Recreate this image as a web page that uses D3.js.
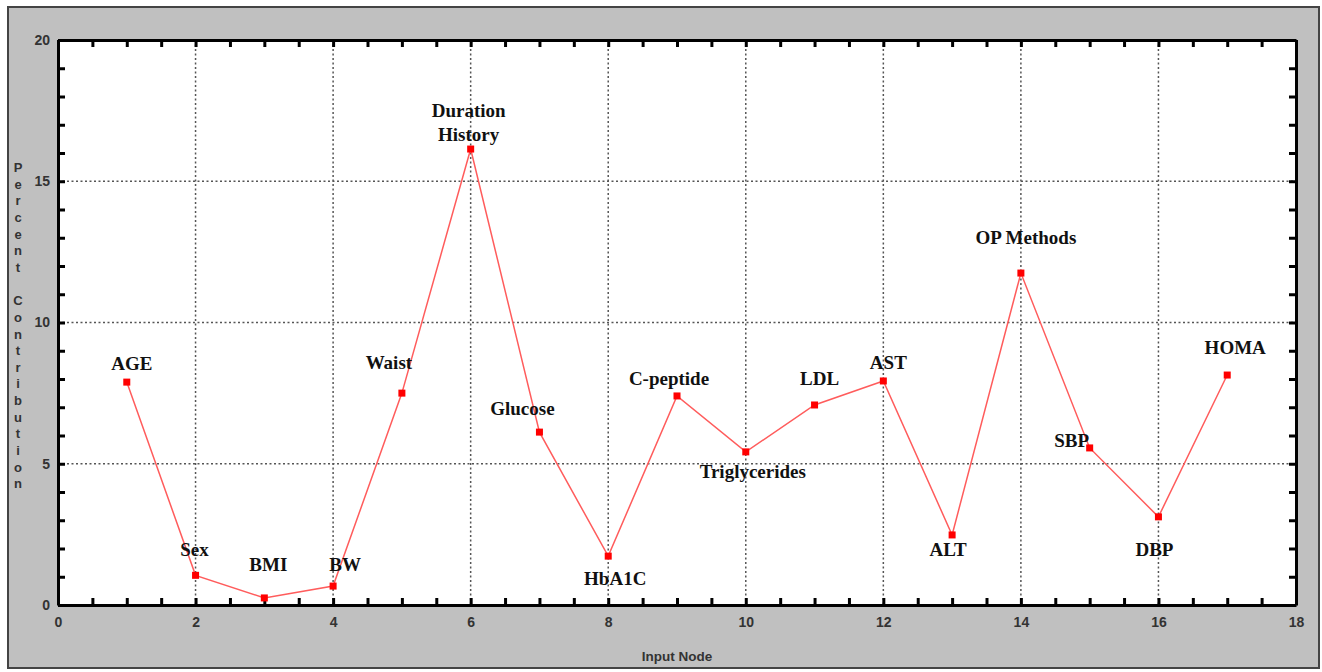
<!DOCTYPE html>
<html>
<head>
<meta charset="utf-8">
<script src="https://cdn.jsdelivr.net/npm/d3@7"></script>
<style>
  body { margin: 0; background: #fff; }
  .tick text { font-family: "Liberation Sans", Arial, sans-serif; font-weight: bold; font-size: 14px; fill: #333; }
  .lbl { font-family: "Liberation Serif", "Times New Roman", serif; font-weight: bold; font-size: 19px; fill: #111; }
</style>
</head>
<body>
<svg id="chart" width="1322" height="672"></svg>
<script>
// input nodes and their percent contribution
const nodes = [1, 2, 3, 4, 5, 6, 7, 8, 9, 10, 11, 12, 13, 14, 15, 16, 17];
const contribution = [7.89, 1.05, 0.25, 0.67, 7.5, 16.14, 6.12, 1.73, 7.4, 5.42, 7.08, 7.93, 2.48, 11.75, 5.56, 3.12, 8.14];
const names = ['AGE', 'Sex', 'BMI', 'BW', 'Waist', 'Duration|History', 'Glucose', 'HbA1C', 'C-peptide',
  'Triglycerides', 'LDL', 'AST', 'ALT', 'OP Methods', 'SBP', 'DBP', 'HOMA'];
const xTickLabels = [0, 2, 4, 6, 8, 10, 12, 14, 16, 18];
const yTickLabels = [0, 5, 10, 15, 20];

// label placement, pixels from each marker [dx, dy of baseline]
const labelOffsets = [[5, -12], [-1, -19], [4, -27], [12, -15], [-13, -24], [-2, -32], [-17, -17], [7, 29],
  [-8, -11], [7, 26], [5, -20], [5, -12], [-4, 21], [5, -29], [-18, -1], [-4, 39], [8, -21]];

const svg = d3.select('#chart');
const margin = { top: 40, right: 26, bottom: 67, left: 58 };
const W = 1322, H = 672;

// gray panel
svg.append('rect')
  .attr('x', 8).attr('y', 7)
  .attr('width', 1311).attr('height', 661)
  .attr('fill', '#c0c0c0')
  .attr('stroke', '#444').attr('stroke-width', 2);

const x = d3.scaleLinear().domain([0, 18]).range([margin.left, W - margin.right]);
const y = d3.scaleLinear().domain([0, 20]).range([H - margin.bottom, margin.top]);

// plot area
svg.append('rect')
  .attr('x', x(0)).attr('y', y(20))
  .attr('width', x(18) - x(0)).attr('height', y(0) - y(20))
  .attr('fill', '#fff');

// dotted grid
const gridX = xTickLabels.filter(d => d > 0 && d < 18);
const gridY = yTickLabels.filter(d => d > 0 && d < 20);
svg.append('g').selectAll('line').data(gridX).enter().append('line')
  .attr('x1', d => x(d)).attr('x2', d => x(d))
  .attr('y1', y(20)).attr('y2', y(0))
  .attr('stroke', '#555').attr('stroke-width', 1.5).attr('stroke-dasharray', '2,2.5');
svg.append('g').selectAll('line').data(gridY).enter().append('line')
  .attr('x1', x(0)).attr('x2', x(18))
  .attr('y1', d => y(d)).attr('y2', d => y(d))
  .attr('stroke', '#555').attr('stroke-width', 1.5).attr('stroke-dasharray', '2,2.5');

const xTicks = d3.range(0, 18.01, 0.5);
const yTicks = d3.range(0, 20.01, 1);
const xFmt = d => (xTickLabels.includes(d) ? d : '');
const yFmt = d => (yTickLabels.includes(d) ? d : '');

function styleAxis(g) {
  g.select('.domain').attr('stroke', '#000').attr('stroke-width', 3);
  g.selectAll('.tick line').attr('stroke', '#000').attr('stroke-width', 3);
}

svg.append('g')
  .attr('transform', 'translate(0,' + y(0) + ')')
  .call(d3.axisBottom(x).tickValues(xTicks).tickFormat(xFmt).tickSize(-7).tickSizeOuter(0).tickPadding(12))
  .call(styleAxis);
svg.append('g')
  .attr('transform', 'translate(0,' + y(20) + ')')
  .call(d3.axisTop(x).tickValues(xTicks).tickFormat('').tickSize(-7).tickSizeOuter(0))
  .call(styleAxis);
svg.append('g')
  .attr('transform', 'translate(' + x(0) + ',0)')
  .call(d3.axisLeft(y).tickValues(yTicks).tickFormat(yFmt).tickSize(-7).tickSizeOuter(0).tickPadding(8))
  .call(styleAxis);
svg.append('g')
  .attr('transform', 'translate(' + x(18) + ',0)')
  .call(d3.axisRight(y).tickValues(yTicks).tickFormat('').tickSize(-7).tickSizeOuter(0))
  .call(styleAxis);

// axis titles
svg.append('text')
  .attr('x', 677).attr('y', 661)
  .attr('text-anchor', 'middle')
  .style('font-family', '"Liberation Sans", Arial, sans-serif')
  .style('font-weight', 'bold').style('font-size', '13.5px').style('fill', '#333')
  .text('Input Node');

const yTitle = 'Percent Contribution'.split('');
svg.append('g').selectAll('text').data(yTitle).enter().append('text')
  .attr('x', 18).attr('y', (d, i) => 172 + i * 16.65)
  .attr('text-anchor', 'middle')
  .style('font-family', '"Liberation Sans", Arial, sans-serif')
  .style('font-weight', 'bold').style('font-size', '13px').style('fill', '#333')
  .text(d => d);

// the series
const data = nodes.map((n, i) => ({ n: n, v: contribution[i], name: names[i], off: labelOffsets[i] }));

svg.append('path')
  .datum(data)
  .attr('fill', 'none')
  .attr('stroke', '#ff5c5c')
  .attr('stroke-width', 1.5)
  .attr('d', d3.line().x(d => x(d.n)).y(d => y(d.v)));

svg.append('g').selectAll('rect').data(data).enter().append('rect')
  .attr('x', d => x(d.n) - 3.5).attr('y', d => y(d.v) - 3.5)
  .attr('width', 7).attr('height', 7)
  .attr('fill', '#ff0000');

const labels = svg.append('g').selectAll('text').data(data).enter().append('text')
  .attr('class', 'lbl')
  .attr('text-anchor', 'middle')
  .attr('x', d => x(d.n) + d.off[0])
  .attr('y', d => y(d.v) + d.off[1]);
labels.selectAll('tspan').data(d => d.name.split('|').map(s => ({ s: s, d: d }))).enter().append('tspan')
  .attr('x', t => x(t.d.n) + t.d.off[0])
  .attr('dy', (t, i) => (i === 0 ? 0 : 24))
  .text(t => t.s);
</script>
</body>
</html>
